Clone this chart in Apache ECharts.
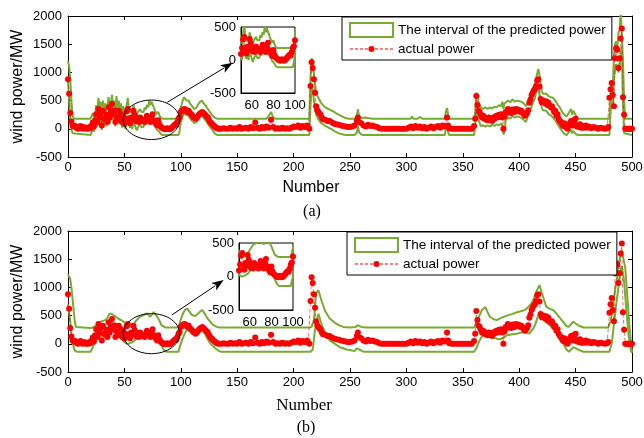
<!DOCTYPE html>
<html>
<head>
<meta charset="utf-8">
<script src="https://cdn.jsdelivr.net/npm/echarts@6/dist/echarts.min.js"></script>
<style>
  html, body { margin: 0; padding: 0; background: #fff; }
  #chart { width: 644px; height: 438px; }
</style>
</head>
<body>
<div id="chart"></div>
<script>
// Datos: [numero, potencia MW]
const actualPower = [
  [0,880],[1,620],[2,280],[3,130],[4,60],[5,40],[6,55],[7,30],[8,10],[9,0],[10,20],[11,50],[12,10],[13,0],[14,30],[15,10],[16,0],[17,20],[18,0],[19,30],[20,10],
  [21,60],[22,110],[23,40],[24,150],[25,260],[26,120],[27,350],[28,200],[29,280],[30,60],[31,320],[32,180],[33,160],[34,250],[35,120],[36,380],[37,200],[38,300],[39,440],[40,260],
  [41,330],[42,120],[43,220],[44,150],[45,320],[46,180],[47,260],[48,120],[49,230],[50,90],[51,180],[52,310],[53,350],[54,150],[55,100],[56,200],[57,160],[58,320],[59,250],[60,200],
  [61,130],[62,180],[63,120],[64,200],[65,170],[66,140],[67,150],[68,120],[69,180],[70,230],[71,200],[72,170],[73,120],[74,200],[75,260],[76,150],[77,120],[78,90],[79,60],[80,150],
  [81,80],[82,40],[83,25],[84,10],[85,0],[86,-10],[87,-5],[88,10],[89,0],[90,-10],[91,0],[92,20],[93,40],[94,60],[95,80],[96,70],[97,120],[98,180],[99,210],[100,300],
  [101,330],[102,320],[103,350],[104,340],[105,330],[106,300],[107,320],[108,280],[109,260],[110,240],[111,210],[112,200],[113,180],[114,190],[115,220],[116,250],[117,270],[118,280],[119,300],[120,280],
  [121,260],[122,240],[123,220],[124,200],[125,160],[126,120],[127,100],[128,80],[129,60],[130,40],[131,25],[132,10],[133,5],[134,0],
  [136,0],[138,10],[140,0],[142,0],[144,20],[146,0],[148,10],[150,0],[152,30],[154,0],[156,10],[158,20],[160,0],[162,30],[164,10],[166,110],[168,20],[170,0],
  [172,30],[174,10],[176,40],[178,20],[180,160],[182,30],[184,0],[186,10],[188,0],[190,20],[192,0],[194,10],[196,0],[198,20],[200,40],[202,30],[204,60],[206,20],[208,50],[210,30],[212,60],[213,20],[214,0],
  [215,760],[216,1180],[217,1080],[218,880],[219,640],[220,400],[221,330],[222,300],[223,270],[224,250],[225,200],[226,170],[228,160],[230,140],[232,140],[234,110],[236,90],[238,80],[240,70],
  [242,60],[244,50],[246,40],[248,30],[250,30],[252,40],[254,60],[256,140],[257,200],[258,120],[260,100],[262,60],[264,40],[266,70],[268,50],[270,60],[272,40],[274,30],[276,10],[278,0],
  [280,0],[282,0],[284,0],[286,0],[288,0],[290,0],[292,0],[294,0],[296,0],[298,0],[300,0],[302,20],[304,40],[306,10],[308,50],[310,20],[312,40],[314,10],[316,30],[318,0],
  [320,20],[322,40],[324,10],[326,30],[328,50],[330,20],[332,60],[334,40],[336,200],[337,60],[338,10],[340,0],[342,0],[344,0],[346,0],[348,0],[350,0],[352,0],[354,0],[356,0],[358,0],
  [360,50],[361,180],[362,580],[363,420],[364,320],[365,300],[366,250],[367,200],[368,230],[369,180],[370,200],[371,160],[372,150],[373,200],[374,170],[375,180],[376,140],[377,200],[378,180],[379,220],
  [380,230],[381,200],[382,250],[383,220],[384,260],[385,200],[386,0],[387,220],[388,300],[389,280],[390,350],[391,300],[392,320],[393,280],[394,340],[395,330],[396,300],[397,350],[398,320],[399,340],
  [400,330],[401,300],[402,320],[403,290],[404,260],[405,230],[406,250],[407,280],[408,330],[409,460],[410,520],[411,600],[412,640],[413,680],[414,700],[415,760],[416,860],[417,880],[418,750],[419,530],
  [420,470],[421,500],[422,480],[423,450],[424,490],[425,420],[426,460],[427,410],[428,380],[429,400],[430,350],[431,300],[432,320],[433,230],[434,260],[435,180],[436,140],[437,120],[438,80],[439,50],
  [440,100],[441,40],[442,20],[443,0],[444,60],[445,100],[446,140],[447,60],[448,150],[449,100],[450,180],[451,40],[452,60],[453,30],[454,80],[455,20],[456,50],[457,20],[458,40],[459,60],
  [460,20],[462,40],[464,10],[466,30],[468,20],[470,0],[472,20],[474,10],[476,0],[478,10],[479,30],
  [480,550],[481,700],[482,810],[483,600],[484,400],[485,1250],[486,1430],[487,1400],[488,1080],[489,1250],[490,1600],[491,1780],[492,560],[493,250],[494,0],[495,0],[496,0],[497,0],[498,0],[499,0],[500,0]
];

// Intervalo predicho (a)
const upperA = [
  [0,1200],[1,1100],[2,900],[3,500],[4,250],[5,180],[20,180],[21,230],[22,280],[23,200],[24,250],[25,420],[26,300],[27,550],[28,380],[29,480],[30,250],
  [31,500],[32,330],[33,450],[34,300],[35,420],[36,560],[37,350],[38,450],[39,600],[40,420],[41,500],[42,300],[43,580],[44,350],[45,500],[46,330],[47,450],[48,280],[49,400],[50,300],
  [51,250],[52,420],[53,550],[54,350],[55,300],[56,330],[57,280],[58,420],[59,350],[60,300],[61,250],[62,300],[63,280],[64,350],[65,300],[66,330],[67,300],[68,380],[69,340],[70,420],
  [71,380],[72,500],[73,420],[74,480],[75,450],[76,380],[77,330],[78,300],[79,260],[80,300],[81,240],[82,200],[84,180],[98,180],[99,250],[100,380],
  [101,450],[102,520],[103,560],[104,540],[105,500],[106,480],[107,500],[108,450],[109,420],[110,400],[111,380],[112,350],[113,370],[114,380],[115,420],[116,450],[117,480],[118,470],[119,500],[120,460],
  [121,440],[122,410],[123,380],[124,350],[125,320],[126,290],[127,260],[128,240],[129,220],[130,200],[131,190],[132,180],[176,180],[178,230],[180,300],[182,200],[184,180],[214,180],
  [215,900],[216,1250],[217,1200],[218,1000],[219,800],[220,620],[222,550],[224,470],[226,420],[228,380],[230,360],[232,340],[234,320],[236,300],[238,270],[240,250],[242,230],[244,210],[246,190],[248,180],
  [254,180],[256,220],[257,350],[258,230],[260,190],[264,200],[265,230],[266,190],[270,180],[304,180],[305,220],[306,180],[310,180],[312,210],[314,180],[334,180],[335,300],[336,370],[337,250],[338,180],
  [360,180],[361,300],[362,640],[363,600],[364,470],[365,440],[366,380],[367,400],[368,350],[370,380],[372,350],[374,380],[376,360],[378,390],[380,380],[382,420],[384,400],[385,480],[386,350],[387,450],
  [388,480],[390,500],[392,470],[394,520],[396,480],[398,500],[400,490],[402,480],[404,450],[406,400],[408,480],[410,600],[412,720],[414,800],[415,900],[416,980],[417,1060],[418,950],[419,800],[420,680],
  [421,620],[422,600],[424,620],[426,580],[428,560],[430,550],[432,500],[434,430],[436,380],[438,300],[440,250],[442,220],[443,200],[444,280],[446,350],[447,250],[448,320],[450,250],[452,180],[480,180],
  [481,600],[482,850],[483,750],[484,1300],[485,1500],[486,1550],[487,1450],[488,1700],[489,1750],[490,2100],[491,2100],[492,1200],[493,500],[494,180],[500,180]
];
const lowerA = [
  [0,850],[1,500],[2,150],[3,0],[4,-80],[5,-110],[20,-110],[21,-60],[22,0],[23,-50],[24,20],[25,180],[26,50],[27,250],[28,80],[29,200],[30,-20],
  [31,220],[32,60],[33,180],[34,40],[35,150],[36,280],[37,100],[38,200],[39,320],[40,160],[41,250],[42,40],[43,300],[44,100],[45,250],[46,80],[47,200],[48,20],[49,150],[50,40],
  [51,0],[52,150],[53,250],[54,80],[55,20],[56,60],[57,0],[58,150],[59,80],[60,20],[61,-30],[62,30],[63,0],[64,80],[65,30],[66,60],[67,30],[68,120],[69,70],[70,150],
  [71,100],[72,220],[73,150],[74,200],[75,170],[76,100],[77,60],[78,20],[79,-20],[80,0],[81,-50],[82,-90],[84,-110],[98,-110],[99,-30],[100,120],
  [101,180],[102,240],[103,280],[104,270],[105,240],[106,220],[107,240],[108,190],[109,160],[110,140],[111,120],[112,100],[113,110],[114,120],[115,160],[116,190],[117,220],[118,210],[119,240],[120,200],
  [121,180],[122,150],[123,120],[124,90],[125,60],[126,30],[127,0],[128,-20],[129,-50],[130,-80],[131,-100],[132,-110],[214,-110],
  [215,400],[216,750],[217,700],[218,500],[219,350],[220,250],[222,170],[224,110],[226,80],[228,50],[230,30],[232,10],[234,-10],[236,-40],[238,-60],[240,-80],[242,-90],[244,-100],[246,-110],
  [254,-110],[256,-70],[257,50],[258,-60],[260,-100],[262,-110],[334,-110],[335,0],[336,40],[337,-60],[338,-110],
  [360,-110],[361,50],[362,300],[363,250],[364,150],[365,100],[366,50],[368,60],[370,40],[372,60],[374,40],[376,70],[378,50],[380,80],[382,60],[384,100],[385,40],[386,-100],[387,-60],
  [388,150],[390,200],[392,180],[394,230],[396,200],[398,220],[400,210],[402,190],[404,160],[406,120],[408,250],[410,350],[412,450],[414,550],[415,650],[416,700],[417,750],[418,600],[419,450],[420,380],
  [421,330],[422,300],[424,320],[426,260],[428,240],[430,200],[432,150],[434,80],[436,20],[438,-40],[440,-90],[442,-110],[444,-60],[446,-20],[447,-80],[448,-40],[450,-90],[452,-110],[480,-110],
  [481,300],[482,500],[483,400],[484,900],[485,1050],[486,1150],[487,1050],[488,1000],[489,1100],[490,1300],[491,1450],[492,400],[493,-80],[494,-110],[500,-110]
];

// Intervalo predicho (b)
const upperB = [
  [0,1230],[1,1220],[2,1150],[3,1000],[4,800],[5,600],[6,400],[7,300],[8,280],[20,280],[22,290],[25,320],[28,380],[30,400],[33,420],[35,460],[37,540],[39,520],[41,500],[43,470],
  [45,440],[48,410],[50,380],[52,320],[55,300],[58,340],[60,400],[63,470],[66,500],[70,540],[73,480],[76,560],[78,510],[80,450],[83,330],[86,290],[98,290],
  [100,430],[102,540],[104,610],[106,620],[108,560],[110,510],[113,490],[115,530],[117,570],[119,600],[121,540],[123,470],[125,420],[127,370],[129,330],[132,300],[134,290],[214,290],
  [216,300],[218,420],[220,900],[222,950],[225,750],[228,580],[232,450],[236,380],[240,330],[244,300],[250,290],[255,300],[257,330],[260,300],[265,290],[360,290],
  [362,380],[365,510],[367,600],[370,650],[372,560],[374,480],[377,440],[380,420],[384,460],[389,500],[394,530],[398,560],[402,580],[405,600],[408,650],[411,720],[413,800],[415,920],[417,1000],[418,1040],
  [420,900],[422,780],[424,660],[427,620],[430,600],[433,540],[436,460],[439,390],[442,310],[444,300],[446,350],[448,390],[450,360],[453,320],[457,290],[479,290],
  [481,400],[483,650],[485,950],[487,1200],[489,1500],[491,1650],[492,1680],[494,1350],[496,800],[498,250],[500,-150]
];
const lowerB = [
  [0,700],[1,550],[2,400],[3,200],[4,50],[5,-60],[6,-120],[8,-140],[20,-140],[22,-60],[25,80],[28,130],[31,180],[34,200],[37,230],[40,270],[42,300],[44,240],[46,170],[48,100],
  [50,30],[52,0],[54,5],[56,20],[58,40],[60,80],[63,120],[66,160],[70,210],[73,130],[76,210],[79,90],[82,0],[85,-110],[87,-140],[98,-140],
  [99,-60],[101,60],[103,160],[105,240],[107,230],[110,200],[113,150],[115,200],[117,270],[119,240],[121,190],[123,110],[125,40],[127,-10],[129,-50],[132,-100],[134,-130],[136,-140],[215,-140],
  [217,-100],[219,250],[221,450],[222,530],[224,400],[226,280],[228,200],[230,130],[232,60],[235,20],[238,-20],[241,-60],[244,-80],[247,-100],[250,-110],[254,-130],[256,-80],[257,-60],[259,-110],[262,-140],[360,-140],
  [362,-80],[364,20],[366,100],[369,180],[371,210],[374,160],[377,120],[380,90],[383,80],[386,110],[389,150],[394,170],[398,180],[402,200],[405,210],[407,190],[409,180],[412,260],[414,330],[416,450],
  [418,560],[420,500],[422,420],[425,360],[427,330],[430,280],[433,210],[436,110],[439,5],[442,-100],[444,-140],[446,-100],[448,-60],[450,-80],[453,-110],[457,-140],[480,-140],
  [482,0],[484,350],[486,700],[488,1000],[490,1300],[491,1380],[493,1100],[495,600],[497,150],[499,-120],[500,-160]
];

const insetXTicks = [60, 80, 100];
const intervalName = 'The interval of the predicted power';
const actualName = 'actual power';

const GREEN = '#77ac30';
const RED = '#ff0000';
const SANS = 'Liberation Sans, Arial, sans-serif';
const SERIF = 'Liberation Serif, Times New Roman, serif';

// icono de leyenda: linea discontinua con un punto en medio
const ACTUAL_ICON = 'path://M0,6.5h3v1h-3z M5,6.5h3v1h-3z M10,6.5h3v1h-3z M15,6.5h3v1h-3z M25,6.5h3v1h-3z ' +
  'M30,6.5h3v1h-3z M35,6.5h3v1h-3z M40,6.5h3v1h-3z M18.5,7a3,3 0 1,0 6,0a3,3 0 1,0 -6,0z';

// Elipse y flecha de cada panel, en coordenadas de datos
const callouts = [
  { seriesIndex: 2, ellipse: [74, 160, 25, 350], from: [88, 470], to: [146, 1170] },
  { seriesIndex: 8, ellipse: [74, 180, 25, 355], from: [92, 510], to: [138, 1130] }
];

const chart = echarts.init(document.getElementById('chart'));

function plain(v) { return String(v); }

function mainX(grid, pos) {
  const bottom = pos === 'bottom';
  return {
    type: 'value', gridIndex: grid, position: pos, min: 0, max: 500, interval: 50,
    axisLine: { show: true, onZero: false, lineStyle: { color: '#000', width: 1 } },
    axisTick: { show: true, inside: true, length: 4, lineStyle: { color: '#000' } },
    axisLabel: { show: bottom, color: '#000', fontFamily: SANS, fontSize: 13, margin: 4, formatter: plain },
    splitLine: { show: false }
  };
}
function mainY(grid, pos) {
  const left = pos === 'left';
  return {
    type: 'value', gridIndex: grid, position: pos, min: -500, max: 2000, interval: 500,
    name: left ? 'wind power/MW' : '', nameLocation: 'middle', nameGap: 42, nameMoveOverlap: false,
    nameTextStyle: { color: '#000', fontFamily: SANS, fontSize: 16 },
    axisLine: { show: true, onZero: false, lineStyle: { color: '#000', width: 1 } },
    axisTick: { show: true, inside: true, length: 4, lineStyle: { color: '#000' } },
    axisLabel: { show: left, color: '#000', fontFamily: SANS, fontSize: 13, margin: 6, formatter: plain },
    splitLine: { show: false }
  };
}
function insetX(grid) {
  return {
    type: 'value', gridIndex: grid, min: 50, max: 100, z: 6,
    axisLine: { show: true, onZero: false, lineStyle: { color: '#000', width: 1 } },
    axisTick: { show: false },
    axisLabel: { color: '#000', fontFamily: SANS, fontSize: 13, margin: 6, customValues: insetXTicks, formatter: plain },
    splitLine: { show: false }
  };
}
function insetY(grid) {
  return {
    type: 'value', gridIndex: grid, min: -500, max: 500, interval: 500, z: 6,
    axisLine: { show: true, onZero: false, lineStyle: { color: '#000', width: 1 } },
    axisTick: { show: false },
    axisLabel: { color: '#000', fontFamily: SANS, fontSize: 13, margin: 5, formatter: plain },
    splitLine: { show: false }
  };
}

function band(data, xi, yi, z) {
  return {
    type: 'line', name: intervalName, data: data, xAxisIndex: xi, yAxisIndex: yi,
    symbol: 'none', showSymbol: false, silent: true, z: z, clip: true,
    lineStyle: { color: GREEN, width: 2 }, itemStyle: { color: GREEN }
  };
}
function actual(xi, yi, z) {
  return {
    type: 'line', name: actualName, data: actualPower, xAxisIndex: xi, yAxisIndex: yi,
    symbol: 'circle', symbolSize: 6, showSymbol: true, silent: true, z: z, clip: true,
    itemStyle: { color: RED },
    lineStyle: { color: RED, width: 1, type: 'dashed', opacity: 0.55 }
  };
}

function legendAt(left, top) {
  return {
    left: left, top: top, orient: 'vertical', selectedMode: false,
    backgroundColor: '#fff', borderColor: '#000', borderWidth: 1,
    padding: [5, 6, 4, 7], itemGap: 4, itemWidth: 43, itemHeight: 14,
    textStyle: { color: '#000', fontFamily: SANS, fontSize: 13.5 },
    data: [
      { name: intervalName, icon: 'rect', itemStyle: { color: '#fff', borderColor: GREEN, borderWidth: 2 } },
      { name: actualName, icon: ACTUAL_ICON, itemStyle: { color: RED, borderWidth: 0 } }
    ]
  };
}

function gridBox(left, top, w, h, inset) {
  const g = { left: left, top: top, width: w, height: h, containLabel: false, outerBoundsMode: 'none' };
  if (inset) {
    g.show = true; g.z = 5; g.backgroundColor = '#fff'; g.borderColor = '#000'; g.borderWidth = 1;
  }
  return g;
}

const option = {
  animation: false,
  backgroundColor: '#fff',
  grid: [
    gridBox(68, 16, 564, 141, false),
    gridBox(241, 27, 54, 66, true),
    gridBox(68, 231, 564, 141, false),
    gridBox(239, 243, 54, 67, true)
  ],
  xAxis: [mainX(0, 'bottom'), mainX(0, 'top'), insetX(1), mainX(2, 'bottom'), mainX(2, 'top'), insetX(3)],
  yAxis: [mainY(0, 'left'), mainY(0, 'right'), insetY(1), mainY(2, 'left'), mainY(2, 'right'), insetY(3)],
  legend: [legendAt(342, 17), legendAt(347, 232)],
  series: [
    band(upperA, 0, 0, 2), band(lowerA, 0, 0, 2), actual(0, 0, 3),
    band(upperA, 2, 2, 7), band(lowerA, 2, 2, 7), actual(2, 2, 8),
    band(upperB, 3, 3, 2), band(lowerB, 3, 3, 2), actual(3, 3, 3),
    band(upperB, 5, 5, 7), band(lowerB, 5, 5, 7), actual(5, 5, 8)
  ]
};

chart.setOption(option);

// Textos sueltos y anotaciones (elipse + flecha)
const graphics = [
  { type: 'text', x: 311, y: 188, z: 20, style: { text: 'Number', font: '16px ' + SANS, fill: '#000', align: 'center', verticalAlign: 'middle' } },
  { type: 'text', x: 312, y: 212, z: 20, style: { text: '(a)', font: '16px ' + SERIF, fill: '#000', align: 'center', verticalAlign: 'middle' } },
  { type: 'text', x: 304, y: 406, z: 20, style: { text: 'Number', font: '17px ' + SERIF, fill: '#000', align: 'center', verticalAlign: 'middle' } },
  { type: 'text', x: 306, y: 428, z: 20, style: { text: '(b)', font: '16px ' + SERIF, fill: '#000', align: 'center', verticalAlign: 'middle' } }
];

callouts.forEach(function (c) {
  const finder = { seriesIndex: c.seriesIndex };
  const e = c.ellipse;
  const center = chart.convertToPixel(finder, [e[0], e[1]]);
  const corner = chart.convertToPixel(finder, [e[0] + e[2], e[1] + e[3]]);
  graphics.push({
    type: 'ellipse', z: 20, silent: true,
    shape: { cx: center[0], cy: center[1], rx: corner[0] - center[0], ry: center[1] - corner[1] },
    style: { fill: 'none', stroke: '#000', lineWidth: 1 }
  });
  const p0 = chart.convertToPixel(finder, c.from);
  const p1 = chart.convertToPixel(finder, c.to);
  const dx = p1[0] - p0[0], dy = p1[1] - p0[1];
  const len = Math.sqrt(dx * dx + dy * dy);
  const ux = dx / len, uy = dy / len;
  const headLen = 12, headW = 4.5;
  const bx = p1[0] - ux * headLen, by = p1[1] - uy * headLen;
  graphics.push({
    type: 'line', z: 20, silent: true,
    shape: { x1: p0[0], y1: p0[1], x2: bx + ux * 2, y2: by + uy * 2 },
    style: { stroke: '#000', lineWidth: 1 }
  });
  graphics.push({
    type: 'polygon', z: 20, silent: true,
    shape: { points: [[p1[0], p1[1]], [bx - uy * headW, by + ux * headW], [bx + ux * 3, by + uy * 3], [bx + uy * headW, by - ux * headW]] },
    style: { fill: '#000' }
  });
});

chart.setOption({ graphic: graphics });

window.addEventListener('resize', function () {
  chart.resize();
});
</script>
</body>
</html>
